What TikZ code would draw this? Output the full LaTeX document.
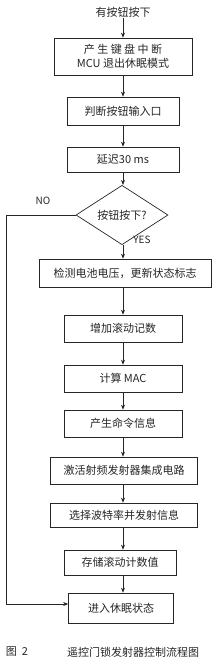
\documentclass[tikz,border=0pt]{standalone}
\usepackage{fontspec}
\setmainfont{Noto Sans CJK SC}
\usetikzlibrary{arrows.meta, shapes.geometric}
\colorlet{colLinea}{black!85}
\tikzset{
  caja/.style={
    draw=colLinea, line width=0.7pt,
    minimum height=27pt, minimum width=112pt,
    align=center, font=\fontsize{11}{14}\selectfont, text=colLinea,
    inner sep=2pt
  },
  rombo/.style={caja, diamond, inner sep=0pt,
    minimum width=92pt, minimum height=40pt},
  flecha/.style={-{Stealth[length=5pt, width=4pt]}, line width=0.6pt, colLinea},
  etiqueta/.style={font=\fontsize{10}{12}\selectfont, text=colLinea, inner sep=1pt},
}
\begin{document}
\begin{tikzpicture}[x=1pt, y=-1pt]
    \useasboundingbox (0,0) rectangle (220,667);
    \node[etiqueta, font=\fontsize{11}{13}\selectfont] (inicio) at (123,12) {有按钮按下};
    \node[caja, minimum width=138pt, minimum height=37pt] (b1) at (123,56.5)
      {产 生 键 盘 中 断\\MCU 退出休眠模式};
    \node[caja, minimum height=28pt] (b2) at (123,111) {判断按钮输入口};
    \node[caja, minimum height=25pt] (b3) at (123,159.5) {延迟30 ms};
    \node[rombo] (d) at (122,215) {按钮按下?};
    \node[caja, minimum width=172pt, minimum height=28pt] (b4) at (125,273)
      {检测电池电压，更新状态标志};
    \node[caja, minimum width=118pt] (b5) at (123,328.5) {增加滚动记数};
    \node[caja, minimum width=118pt] (b6) at (123,378.5) {计算 MAC};
    \node[caja, minimum width=118pt] (b7) at (123,423.5) {产生命令信息};
    \node[caja, minimum width=147pt] (b8) at (124,470.5) {激活射频发射器集成电路};
    \node[caja, minimum width=147pt, minimum height=24pt] (b9) at (124,515)
      {选择波特率并发射信息};
    \node[caja, minimum height=25pt] (b10) at (120,562.5) {存储滚动计数值};
    \node[caja, minimum width=105pt, minimum height=30pt] (b11) at (121,608)
      {进入休眠状态};
    \coordinate (esquina) at (6,215);
    % etiquetas de la decision
    \node[etiqueta] (no) at (43,201) {NO};
    \node[etiqueta] (si) at (142,240) {YES};
    % flujo principal
    \draw[flecha] (inicio) -- (inicio |- b1.north);
    \foreach \a/\b in {b1/b2, b2/b3, b3/d, d/b4, b4/b5, b5/b6, b6/b7,
                       b7/b8, b8/b9, b9/b10, b10/b11}
      \draw[flecha] (inicio |- \a.south) -- (inicio |- \b.north);
    % rama NO
    \draw[flecha] (d.west) -- (esquina) |- ([yshift=4pt]b11.west);
    % pie de figura
    \node[etiqueta, font=\fontsize{11}{13}\selectfont] (fig) at (17,652) {图\ \ 2};
    \node[etiqueta, font=\fontsize{11}{13}\selectfont] (titulo) at (133,652)
      {遥控门锁发射器控制流程图};
\end{tikzpicture}
\end{document}
